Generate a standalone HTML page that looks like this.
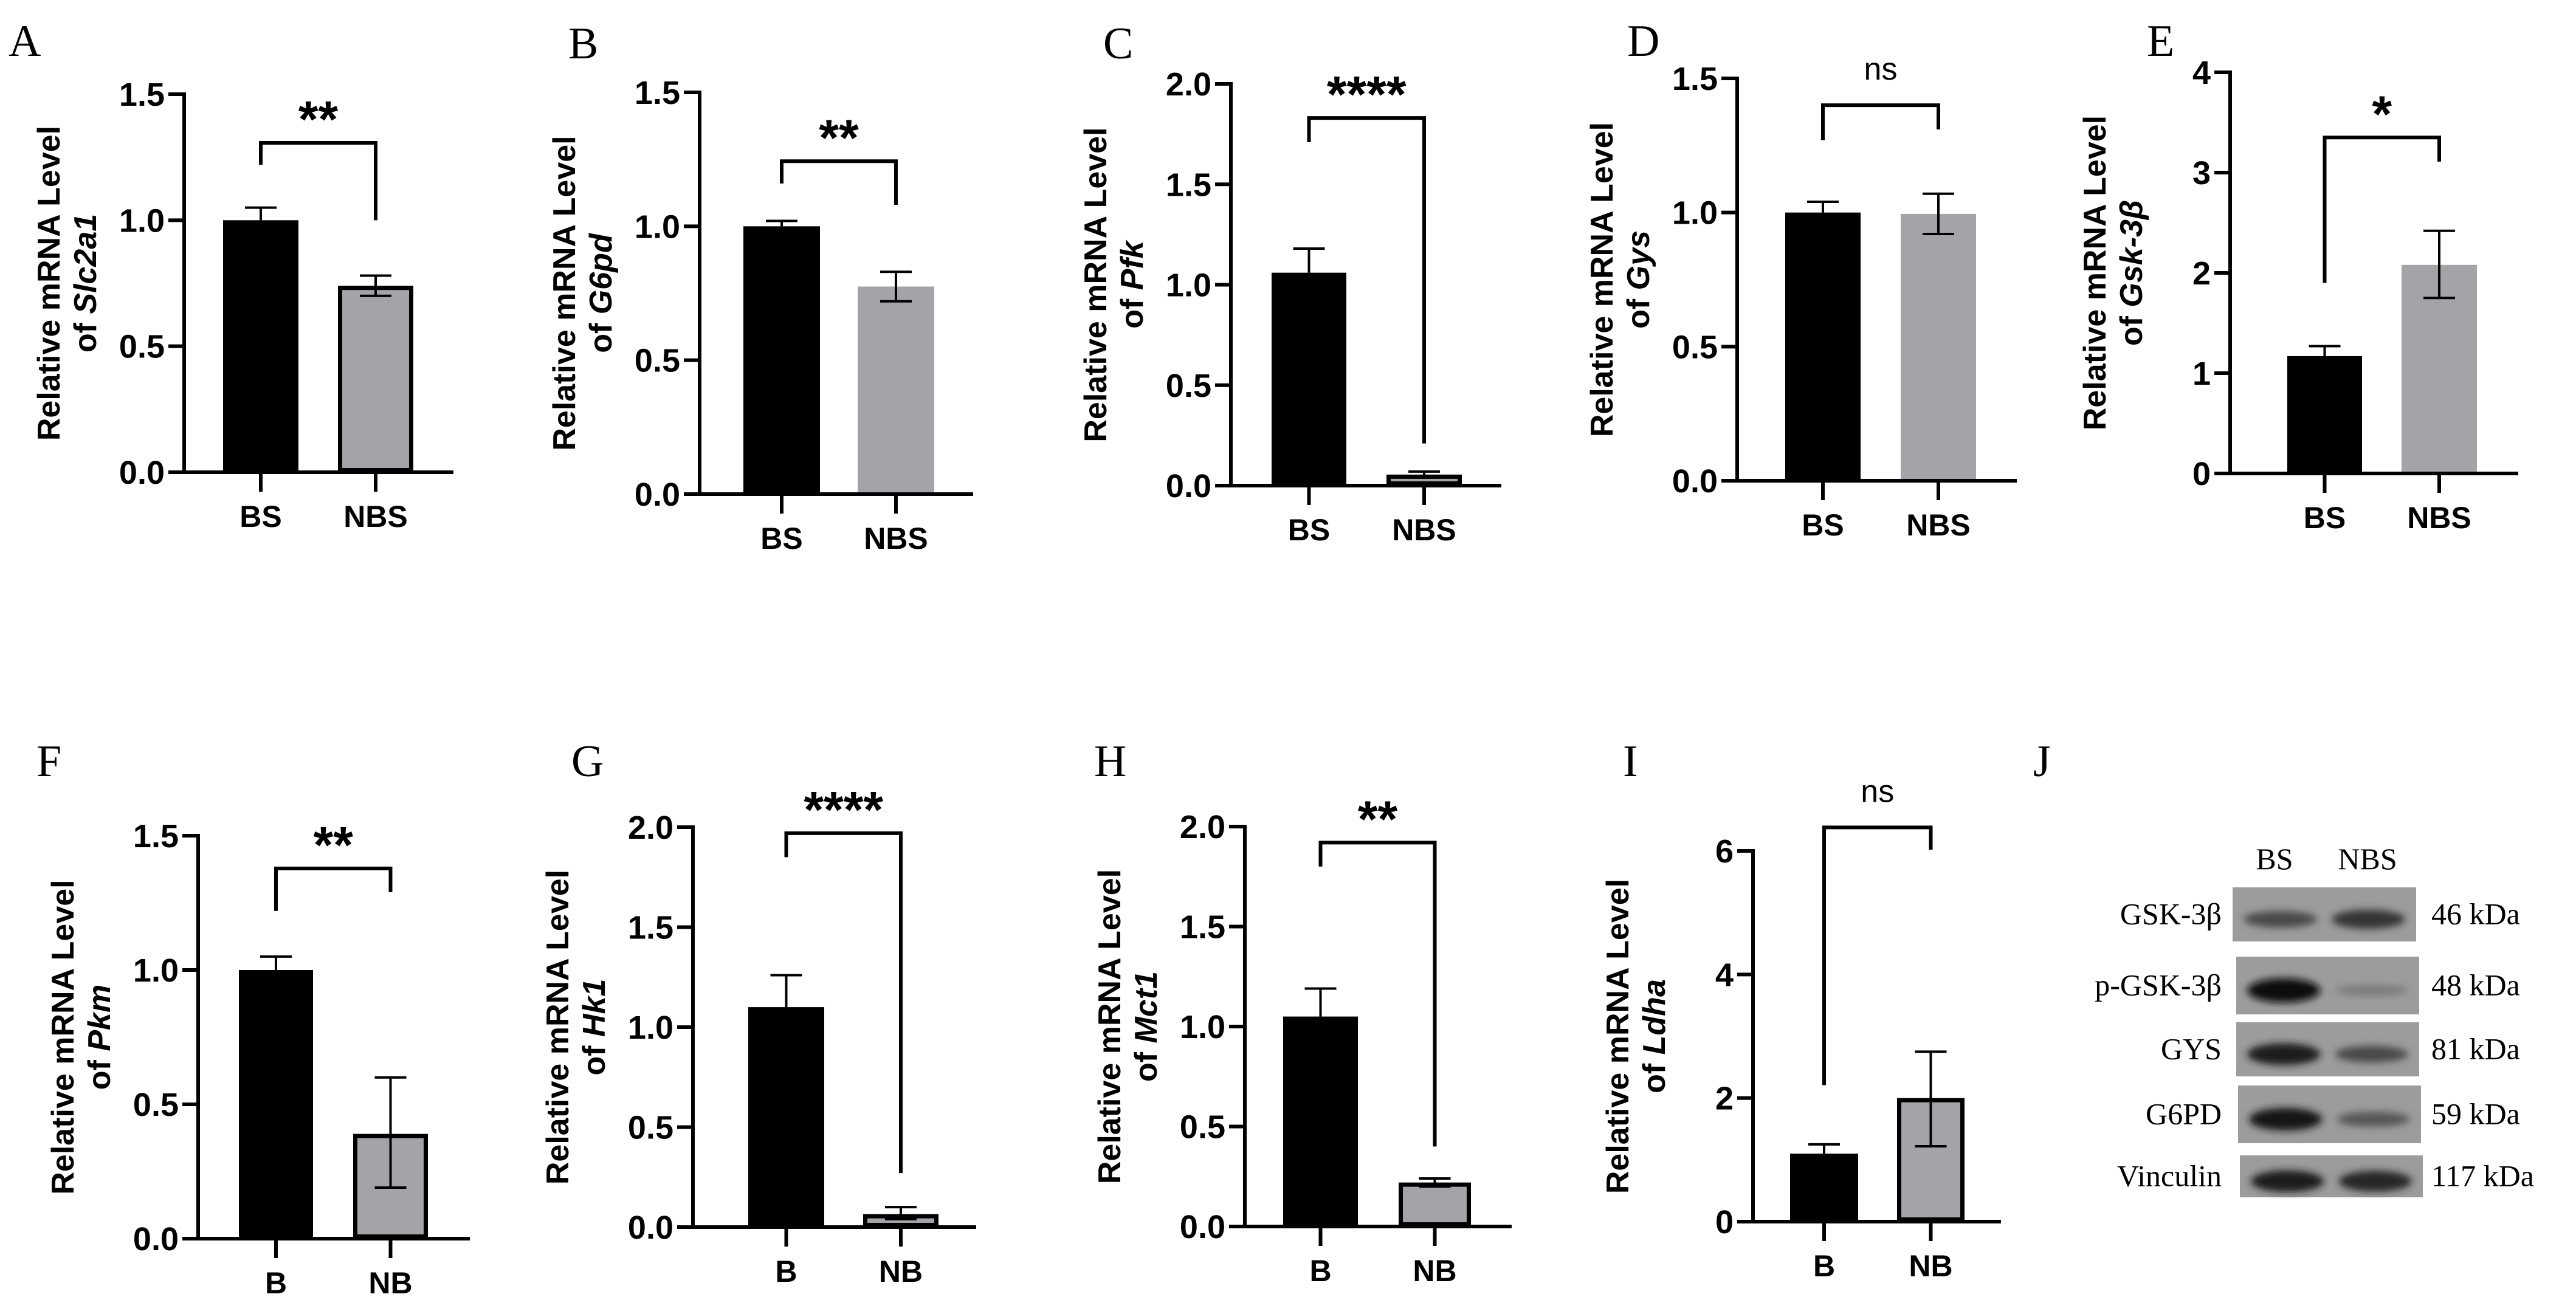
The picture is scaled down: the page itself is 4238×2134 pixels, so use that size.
<!DOCTYPE html>
<html><head><meta charset="utf-8"><style>
html,body{margin:0;padding:0;background:#fff;}
svg{display:block;}
</style></head><body>
<svg id="fig" width="4238" height="2134" viewBox="0 0 4238 2134" xmlns="http://www.w3.org/2000/svg">
<defs><filter id="blur" x="-20%" y="-50%" width="140%" height="200%"><feGaussianBlur stdDeviation="6"/></filter></defs>
</svg>
<script>
// ---- data arrays ----
const catsBS = ["BS","NBS"];
const catsB = ["B","NB"];
const valsA=[1.0,0.74], loA=[1.0,0.70], hiA=[1.05,0.78];
const valsB=[1.0,0.775], loB=[1.0,0.72], hiB=[1.02,0.83];
const valsC=[1.06,0.055], loC=[1.06,0.04], hiC=[1.18,0.07];
const valsD=[1.0,0.995], loD=[1.0,0.92], hiD=[1.04,1.07];
const valsE=[1.17,2.08], loE=[1.17,1.75], hiE=[1.27,2.42];
const valsF=[1.0,0.39], loF=[1.0,0.19], hiF=[1.05,0.60];
const valsG=[1.1,0.065], loG=[1.1,0.04], hiG=[1.26,0.10];
const valsH=[1.05,0.22], loH=[1.05,0.20], hiH=[1.19,0.24];
const valsI=[1.1,2.0], loI=[1.1,1.22], hiI=[1.25,2.75];
const ticks15=[0,0.5,1.0,1.5], tickLab15=["0.0","0.5","1.0","1.5"];
const ticks2=[0,0.5,1.0,1.5,2.0], tickLab2=["0.0","0.5","1.0","1.5","2.0"];
const ticks4=[0,1,2,3,4], tickLab4=["0","1","2","3","4"];
const ticks6=[0,2,4,6], tickLab6=["0","2","4","6"];
const bracketA=[1.307,1.22,1.0], bracketB=[1.243,1.16,1.08], bracketC=[1.83,1.71,0.21];
const bracketD=[1.40,1.27,1.31], bracketE=[3.35,1.90,3.11], bracketF=[1.378,1.22,1.29];
const bracketG=[1.97,1.85,0.27], bracketH=[1.92,1.80,0.40], bracketI=[6.38,2.21,6.02];
const blotProteins=["GSK-3β","p-GSK-3β","GYS","G6PD","Vinculin"];
const blotKda=["46 kDa","48 kDa","81 kDa","59 kDa","117 kDa"];
const blotBS=[0.55,1.0,0.85,0.9,0.85];
const blotNBS=[0.7,0.2,0.55,0.45,0.8];

const svg=document.getElementById('fig');
const NS="http://www.w3.org/2000/svg";
function mk(tag,attrs,parent){const e=document.createElementNS(NS,tag);for(const k in attrs)e.setAttribute(k,attrs[k]);(parent||svg).appendChild(e);return e;}

const panels=[
 {id:"a",L:"A",lx:14,ly:92,ax:303,top:155,bot:777,ymax:1.5,ticks:ticks15,tl:tickLab15,end:746,bars:[[367,491],[556,680]],border:true,v:valsA,lo:loA,hi:hiA,br:bracketA,sig:"**",cats:catsBS,gene:"Slc2a1"},
 {id:"b",L:"B",lx:935,ly:96,ax:1151,top:152,bot:813,ymax:1.5,ticks:ticks15,tl:tickLab15,end:1601,bars:[[1223,1349],[1411,1537]],border:false,v:valsB,lo:loB,hi:hiB,br:bracketB,sig:"**",cats:catsBS,gene:"G6pd"},
 {id:"c",L:"C",lx:1815,ly:96,ax:2025,top:138,bot:799,ymax:2,ticks:ticks2,tl:tickLab2,end:2470,bars:[[2092,2215],[2281,2405]],border:true,v:valsC,lo:loC,hi:hiC,br:bracketC,sig:"****",cats:catsBS,gene:"Pfk"},
 {id:"d",L:"D",lx:2677,ly:92,ax:2858,top:129,bot:791,ymax:1.5,ticks:ticks15,tl:tickLab15,end:3318,bars:[[2937,3061],[3127,3251]],border:false,v:valsD,lo:loD,hi:hiD,br:bracketD,sig:"ns",cats:catsBS,gene:"Gys"},
 {id:"e",L:"E",lx:3532,ly:92,ax:3669,top:119,bot:779,ymax:4,ticks:ticks4,tl:tickLab4,end:4143,bars:[[3763,3886],[3951,4075]],border:false,v:valsE,lo:loE,hi:hiE,br:bracketE,sig:"*",cats:catsBS,gene:"Gsk-3β"},
 {id:"f",L:"F",lx:60,ly:1277,ax:326,top:1375,bot:2038,ymax:1.5,ticks:ticks15,tl:tickLab15,end:773,bars:[[393,515],[581,704]],border:true,v:valsF,lo:loF,hi:hiF,br:bracketF,sig:"**",cats:catsB,gene:"Pkm"},
 {id:"g",L:"G",lx:940,ly:1277,ax:1140,top:1361,bot:2019,ymax:2,ticks:ticks2,tl:tickLab2,end:1606,bars:[[1231,1356],[1420,1544]],border:true,v:valsG,lo:loG,hi:hiG,br:bracketG,sig:"****",cats:catsB,gene:"Hk1"},
 {id:"h",L:"H",lx:1800,ly:1277,ax:2048,top:1360,bot:2018,ymax:2,ticks:ticks2,tl:tickLab2,end:2487,bars:[[2111,2234],[2301,2420]],border:true,v:valsH,lo:loH,hi:hiH,br:bracketH,sig:"**",cats:catsB,gene:"Mct1"},
 {id:"i",L:"I",lx:2670,ly:1277,ax:2884,top:1400,bot:2010,ymax:6,ticks:ticks6,tl:tickLab6,end:3292,bars:[[2945,3057],[3121,3232]],border:true,v:valsI,lo:loI,hi:hiI,br:bracketI,sig:"ns",cats:catsB,gene:"Ldha"}
];
const FS='"Liberation Sans", Arial, sans-serif';
const SERIF='"Liberation Serif", "Times New Roman", serif';

panels.forEach(p=>{
 const g=mk('g',{});
 
 
 const y=v=>p.bot-(v/p.ymax)*(p.bot-p.top);
 const lt=mk('text',{x:p.lx,y:p.ly,'font-family':SERIF,'font-size':74},g);lt.textContent=p.L;
 
 
 p.bars.forEach((b,i)=>{
  const yv=y(p.v[i]);
  let r;
  if(i===0){r=mk('rect',{x:b[0],y:yv,width:b[1]-b[0],height:p.bot-yv,fill:'#000'},g);}
  else if(p.border){r=mk('rect',{x:b[0]+3.5,y:yv+3.5,width:b[1]-b[0]-7,height:Math.max(p.bot-yv-7,0),fill:'#a3a3a8',stroke:'#000','stroke-width':7},g);}
  else{r=mk('rect',{x:b[0],y:yv,width:b[1]-b[0],height:p.bot-yv,fill:'#a3a3a8'},g);}
  
  
  const cx=(b[0]+b[1])/2;
  const eg=mk('g',{stroke:'#000','stroke-width':4},g);
  
  
  mk('line',{x1:cx,x2:cx,y1:y(p.lo[i]),y2:y(p.hi[i])},eg);
  mk('line',{x1:cx-26,x2:cx+26,y1:y(p.hi[i]),y2:y(p.hi[i])},eg);
  if(p.lo[i]<p.v[i]) mk('line',{x1:cx-26,x2:cx+26,y1:y(p.lo[i]),y2:y(p.lo[i])},eg);
  mk('line',{x1:cx,x2:cx,y1:p.bot,y2:p.bot+32,stroke:'#000','stroke-width':6},g);
  const xl=mk('text',{x:cx,y:p.bot+90,'text-anchor':'middle','font-family':FS,'font-weight':'bold','font-size':50},g);
  xl.textContent=p.cats[i];
  
  
 });
 const axg=mk('g',{stroke:'#000','stroke-width':6,fill:'none'},g);
 
 
 mk('line',{x1:p.ax,x2:p.ax,y1:p.top-3,y2:p.bot+3},axg);
 mk('line',{x1:p.ax-3,x2:p.end,y1:p.bot,y2:p.bot},axg);
 p.ticks.forEach((t,k)=>{
  mk('line',{x1:p.ax-26,x2:p.ax,y1:y(t),y2:y(t)},axg);
  const tl=mk('text',{x:p.ax-32,y:y(t)+19,'text-anchor':'end','font-family':FS,'font-weight':'bold','font-size':54},g);
  tl.textContent=p.tl[k];
  
  
 });
 const cy=(p.top+p.bot)/2;
 const t1=mk('text',{x:0,y:0,'text-anchor':'middle','font-family':FS,'font-weight':'bold','font-size':52,transform:`translate(${p.ax-205},${cy}) rotate(-90)`},g);
 t1.textContent='Relative mRNA Level';
 
 
 const t2=mk('text',{x:0,y:0,'text-anchor':'middle','font-family':FS,'font-weight':'bold','font-size':52,transform:`translate(${p.ax-145},${cy}) rotate(-90)`},g);
 t2.appendChild(document.createTextNode('of '));
 const ts=mk('tspan',{'font-style':'italic'},t2);ts.textContent=p.gene;
 
 
 const c0=(p.bars[0][0]+p.bars[0][1])/2, c1=(p.bars[1][0]+p.bars[1][1])/2;
 const by=y(p.br[0]);
 const bp=mk('path',{d:`M${c0},${y(p.br[1])} V${by} H${c1} V${y(p.br[2])}`,fill:'none',stroke:'#000','stroke-width':6},g);
 
 
 const ns=p.sig==='ns';
 const st=mk('text',{x:(c0+c1)/2,y:ns?by-42:by-10,'text-anchor':'middle','font-family':FS,'font-weight':ns?'normal':'bold','font-size':ns?52:84},g);
 st.textContent=p.sig;
 
 
});

// ---- panel J: western blot ----
const jg=mk('g',{});


const jl=mk('text',{x:3345,y:1277,'font-family':SERIF,'font-size':74},jg);jl.textContent='J';


const lbs=mk('text',{x:3742,y:1430,'text-anchor':'middle','font-family':SERIF,'font-size':50},jg);lbs.textContent='BS';


const lnbs=mk('text',{x:3895,y:1430,'text-anchor':'middle','font-family':SERIF,'font-size':50},jg);lnbs.textContent='NBS';


const strips=[[3673,3975,1460,1549],[3679,3980,1574,1669],[3679,3980,1682,1771],[3682,3983,1786,1881],[3685,3986,1901,1970]];
blotProteins.forEach((name,i)=>{
 const s=strips[i];
 const sg=mk('g',{},jg);
 
 
 mk('rect',{x:s[0],y:s[2],width:s[1]-s[0],height:s[3]-s[2],fill:'#9c9c9c'},sg);
 const my=(s[2]+s[3])/2+8;
 const w=(s[1]-s[0]);
 [blotBS[i],blotNBS[i]].forEach((inten,j)=>{
  const cx=s[0]+w*(j===0?0.26:0.74);
  const shade=Math.round(150-140*inten);
  const band=mk('ellipse',{cx:cx,cy:my,rx:w*0.2,ry:6+14*inten,fill:`rgb(${shade},${shade},${shade})`,filter:'url(#blur)'},sg);
  
  
 });
 const pl=mk('text',{x:3655,y:(s[2]+s[3])/2+16,'text-anchor':'end','font-family':SERIF,'font-size':50},jg);
 pl.textContent=name;
 
 
 const kl=mk('text',{x:4000,y:(s[2]+s[3])/2+16,'font-family':SERIF,'font-size':50},jg);
 kl.textContent=blotKda[i];
 
 
});
</script>
</body></html>
